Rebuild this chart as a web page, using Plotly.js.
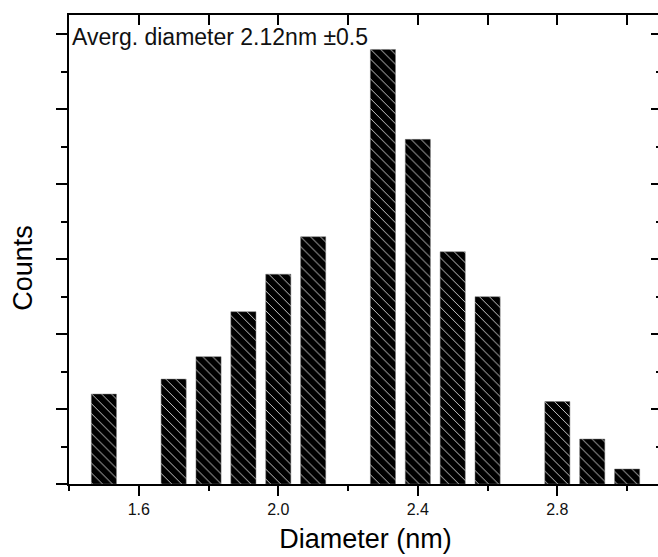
<!DOCTYPE html>
<html>
<head>
<meta charset="utf-8">
<script src="https://cdn.plot.ly/plotly-3.0.1.min.js"></script>
<style>
html, body { margin: 0; padding: 0; overflow: hidden; background: #fff; width: 658px; height: 557px; }
#chart { width: 664px; height: 557px; }
</style>
</head>
<body>
<div id="chart"></div>
<script>
// Data
const diameters = [1.5, 1.7, 1.8, 1.9, 2.0, 2.1, 2.3, 2.4, 2.5, 2.6, 2.8, 2.9, 3.0];
const counts = [12, 14, 17, 23, 28, 33, 58, 46, 31, 25, 11, 6, 2];
const xTickVals = [1.6, 2.0, 2.4, 2.8];
const xTickText = ['1.6', '2.0', '2.4', '2.8'];
const noteText = 'Averg. diameter 2.12nm \u00b10.5';
const xTitle = 'Diameter (nm)';
const yTitle = 'Counts';

const FONT = 'Liberation Sans, Arial, sans-serif';

const bars = {
  type: 'bar',
  x: diameters,
  y: counts,
  width: 0.072,
  marker: {
    color: '#000000',
    line: { color: '#777777', width: 0.5 },
    pattern: { shape: '\\', fgcolor: '#c8c8c8', bgcolor: '#000000', size: 7, solidity: 0.14, fillmode: 'replace' }
  },
  hoverinfo: 'x+y',
  showlegend: false
};

const ghost = {
  type: 'scatter', mode: 'markers', x: [2.0], y: [10],
  xaxis: 'x2', yaxis: 'y2', marker: { opacity: 0 }, hoverinfo: 'skip', showlegend: false
};

const xr = [1.4, 3.1];
const yr = [0, 62.6];

const layout = {
  width: 664, height: 557,
  margin: { l: 69, r: 2, t: 15, b: 73 },
  paper_bgcolor: '#ffffff', plot_bgcolor: '#ffffff',
  font: { family: FONT, color: '#000' },
  showlegend: false,
  bargap: 0,
  xaxis: {
    range: xr, tickvals: xTickVals, ticktext: xTickText,
    ticks: 'outside', ticklen: 10, tickwidth: 2, tickcolor: '#000',
    minor: { tick0: 1.4, dtick: 0.4, ticks: 'outside', ticklen: 5, tickwidth: 2, tickcolor: '#000' },
    showline: true, linewidth: 2, linecolor: '#000',
    showgrid: false, zeroline: false,
    tickfont: { family: FONT, size: 16, color: '#111' },
    title: { text: xTitle, font: { family: FONT, size: 27, color: '#000' }, standoff: 12 }
  },
  xaxis2: {
    overlaying: 'x', side: 'top', range: xr, tick0: 1.4, dtick: 0.2,
    ticks: 'inside', ticklen: 10, tickwidth: 2, tickcolor: '#000',
    showticklabels: false, showline: true, linewidth: 2, linecolor: '#000',
    showgrid: false, zeroline: false
  },
  yaxis: {
    range: yr, tick0: 0, dtick: 10,
    ticks: 'outside', ticklen: 11, tickwidth: 2, tickcolor: '#000',
    minor: { tick0: 5, dtick: 10, ticks: 'outside', ticklen: 6, tickwidth: 2, tickcolor: '#000' },
    showticklabels: false, showline: true, linewidth: 2, linecolor: '#000',
    showgrid: false, zeroline: false
  },
  yaxis2: {
    overlaying: 'y', side: 'right', range: yr, tick0: 0, dtick: 10,
    ticks: 'inside', ticklen: 11, tickwidth: 2, tickcolor: '#000',
    minor: { tick0: 5, dtick: 10, ticks: 'inside', ticklen: 6, tickwidth: 2, tickcolor: '#000' },
    showticklabels: false, showline: true, linewidth: 2, linecolor: '#000',
    showgrid: false, zeroline: false
  },
  annotations: [
    {
      text: noteText, xref: 'paper', yref: 'paper', x: 0, y: 0.953,
      xanchor: 'left', yanchor: 'middle', xshift: 1, showarrow: false,
      font: { family: FONT, size: 23, color: '#111' }
    },
    {
      text: yTitle, xref: 'paper', yref: 'paper', x: 0, y: 0.461,
      xanchor: 'center', yanchor: 'middle', xshift: -46, textangle: -90, showarrow: false,
      font: { family: FONT, size: 27, color: '#000' }
    }
  ]
};

Plotly.newPlot('chart', [bars, ghost], layout, { displayModeBar: false, staticPlot: true });
</script>
</body>
</html>
